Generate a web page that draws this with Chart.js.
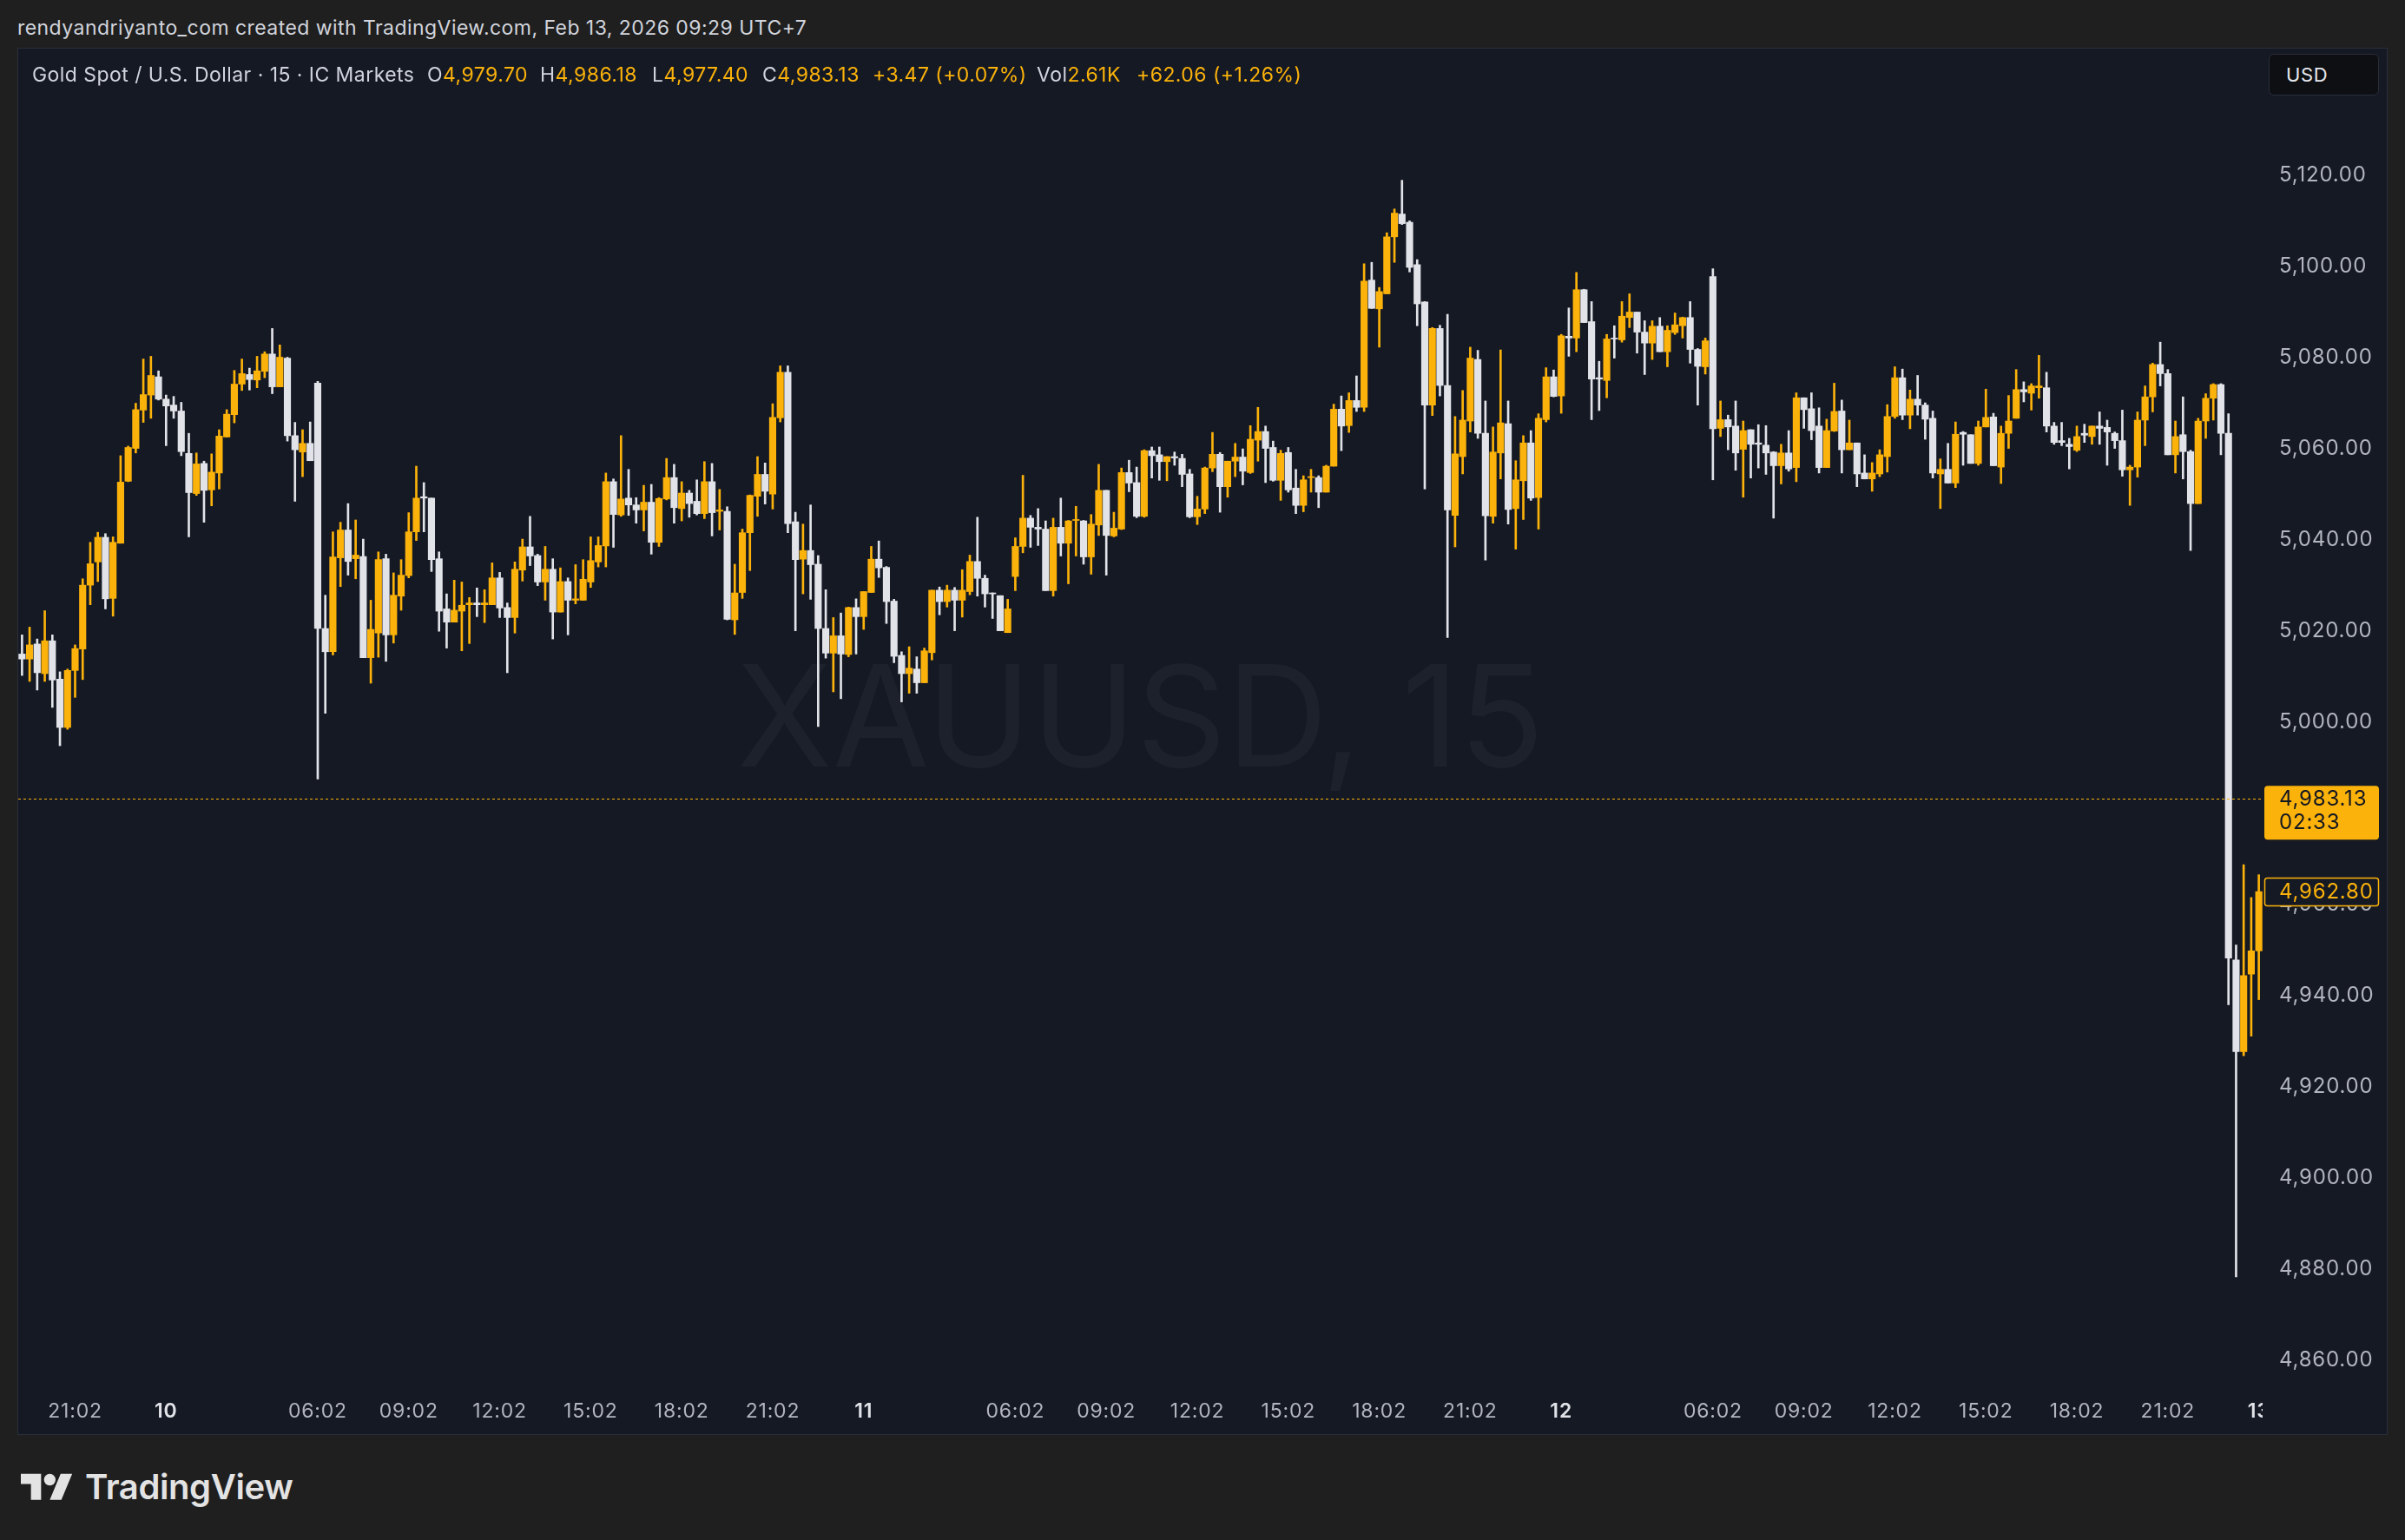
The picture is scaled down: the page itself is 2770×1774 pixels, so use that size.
<!DOCTYPE html>
<html>
<head>
<meta charset="utf-8">
<script src="https://cdn.jsdelivr.net/npm/chart.js@4.4.1/dist/chart.umd.min.js"></script>
<style>
  body { margin: 0; width: 2770px; height: 1774px; background: #1f1f1f; position: relative; overflow: hidden; font-family: Inter, "Noto Sans", sans-serif; }
  #header { position: absolute; left: 20px; top: 19px; font-size: 23px; line-height: 26px; color: #d1d4dc; letter-spacing: 0.45px; white-space: nowrap; }
  #panel { position: absolute; left: 20px; top: 55px; width: 2728px; height: 1596px; border: 1px solid #2a2e39; background: #151924; }
  #chart { position: absolute; left: 21px; top: 56px; }
  .lg { position: absolute; top: 73px; font-size: 23px; line-height: 26px; color: #d1d4dc; white-space: nowrap; letter-spacing: 0.45px; }
  .lg b { font-weight: 400; color: #fbb20a; }
  #usd { position: absolute; left: 2613px; top: 62px; width: 127px; height: 48px; box-sizing: border-box; border: 1px solid #2a2e39; border-radius: 6px; background: #0e0f13; color: #e6e8ee; font-size: 22px; line-height: 46px; padding-left: 19px; letter-spacing: 0.6px; }
  #logo { position: absolute; left: 24px; top: 1691px; display: flex; align-items: flex-start; }
  #logo span { font-size: 40px; font-weight: 600; color: #e3e3e3; letter-spacing: -0.4px; margin-left: 14px; line-height: 40px; margin-top: 2px; }
</style>
</head>
<body>
<div id="header">rendyandriyanto_com created with TradingView.com, Feb 13, 2026 09:29 UTC+7</div>
<div id="panel"></div>
<canvas id="chart" width="2728" height="1596"></canvas>
<div class="lg" style="left:37px">Gold Spot / U.S. Dollar · 15 · IC Markets</div>
<div class="lg" style="left:492px">O<b>4,979.70</b></div>
<div class="lg" style="left:622px">H<b>4,986.18</b></div>
<div class="lg" style="left:751px">L<b>4,977.40</b></div>
<div class="lg" style="left:878px">C<b>4,983.13</b></div>
<div class="lg" style="left:1005px"><b>+3.47 (+0.07%)</b></div>
<div class="lg" style="left:1194px">Vol<b>2.61K</b></div>
<div class="lg" style="left:1309px"><b>+62.06 (+1.26%)</b></div>
<div id="usd">USD</div>
<div id="logo">
  <svg width="60" height="47" viewBox="0 0 36 28"><path fill="#e3e3e3" d="M14 22H7V11H0V4h14v18zM28 22h-8l7.5-18h8L28 22z"/><circle fill="#e3e3e3" cx="20" cy="8" r="4"/></svg>
  <span>TradingView</span>
</div>
<script>
const opens = [
5014.9,5013.8,5017.1,5010.6,5017.8,5009.4,4998.8,5011.3,5016.0,5030.0,5035.1,5040.5,5027.1,5039.2,5052.8,5060.0,5068.4,5071.7,5075.7,5070.8,
5069.5,5068.2,5058.9,5050.1,5056.7,5050.9,5054.6,5062.5,5067.4,5074.1,5076.2,5075.0,5076.9,5080.7,5073.5,5079.8,5062.8,5059.2,5061.1,5074.3,
5020.5,5015.4,5036.0,5042.1,5035.8,5036.3,5014.1,5019.5,5035.8,5019.1,5027.6,5032.1,5041.7,5049.4,5049.1,5035.8,5024.8,5021.9,5024.3,5025.7,
5026.1,5025.7,5025.7,5031.6,5025.1,5022.9,5033.3,5038.4,5036.5,5030.7,5033.5,5024.1,5030.8,5026.7,5026.7,5030.7,5035.1,5038.6,5052.7,5045.4,
5049.1,5047.6,5046.5,5048.2,5039.4,5048.9,5053.6,5046.8,5050.2,5048.4,5045.7,5052.7,5046.2,5046.2,5022.4,5028.4,5041.5,5049.5,5054.3,5050.0,
5066.7,5076.7,5043.9,5035.7,5037.6,5034.6,5020.5,5015.1,5018.9,5014.8,5025.1,5023.1,5028.4,5035.7,5033.9,5026.5,5014.6,5010.6,5011.6,5008.6,
5015.2,5028.9,5026.4,5028.9,5026.7,5028.6,5035.2,5031.5,5028.3,5027.7,5019.6,5031.9,5038.5,5044.7,5042.7,5042.3,5028.8,5042.7,5039.2,5044.2,
5044.1,5036.2,5043.2,5050.8,5040.8,5042.3,5054.7,5052.5,5045.1,5059.5,5058.6,5057.1,5058.2,5057.8,5054.4,5045.0,5046.7,5055.7,5058.7,5051.6,
5057.2,5058.1,5054.7,5061.8,5063.7,5060.2,5053.0,5059.1,5051.3,5047.5,5053.6,5053.6,5050.4,5056.1,5068.6,5065.0,5070.5,5069.0,5096.9,5090.6,
5093.9,5106.4,5111.4,5109.6,5100.3,5092.1,5069.5,5086.3,5073.8,5045.3,5058.2,5066.0,5079.5,5063.3,5045.1,5059.0,5065.4,5046.8,5052.9,5061.2,
5049.2,5066.3,5075.7,5071.5,5084.6,5084.2,5094.8,5087.8,5075.5,5074.9,5084.2,5083.8,5088.7,5089.9,5085.5,5083.1,5086.8,5081.2,5085.4,5086.9,
5088.7,5081.7,5077.9,5097.7,5064.4,5066.3,5064.9,5059.8,5064.1,5061.2,5060.7,5059.2,5056.2,5059.0,5055.8,5071.1,5068.7,5064.9,5055.8,5063.8,
5068.2,5059.7,5061.2,5054.6,5053.3,5054.4,5058.2,5067.0,5075.5,5067.3,5070.8,5069.5,5066.6,5054.4,5055.4,5052.4,5063.5,5063.0,5056.7,5064.7,
5066.9,5055.9,5063.3,5066.6,5072.9,5072.1,5073.3,5073.3,5064.9,5061.7,5060.9,5059.6,5063.3,5062.6,5064.9,5064.6,5063.3,5061.7,5055.3,5055.9,
5066.2,5071.3,5078.4,5076.4,5058.6,5063.0,5059.3,5047.9,5066.0,5071.0,5074.0,5063.3,4947.8,4927.7,4944.7,4949.8
];
const highs = [
5019.1,5020.8,5018.2,5024.4,5019.1,5011.0,5011.6,5016.9,5031.4,5039.4,5041.6,5041.3,5040.6,5058.4,5060.5,5069.9,5079.6,5080.2,5077.0,5071.7,
5071.4,5070.1,5063.3,5059.0,5057.2,5058.8,5064.1,5068.5,5077.1,5079.6,5077.6,5080.2,5081.2,5086.3,5082.7,5080.0,5065.7,5064.1,5065.8,5074.7,
5027.8,5041.7,5043.8,5047.9,5044.3,5040.1,5026.7,5037.3,5036.8,5032.7,5035.6,5045.9,5056.1,5052.5,5049.1,5037.3,5028.1,5031.1,5030.7,5027.3,
5029.4,5029.0,5034.9,5032.8,5026.1,5035.1,5040.1,5045.1,5036.8,5038.5,5035.8,5033.8,5031.6,5034.5,5035.6,5040.6,5040.6,5054.6,5053.3,5062.8,
5055.4,5049.2,5051.9,5052.1,5049.2,5057.8,5056.5,5052.7,5050.8,5053.1,5057.1,5056.7,5051.0,5047.2,5034.6,5042.3,5049.8,5058.2,5056.8,5069.8,
5078.1,5078.1,5046.0,5043.4,5047.6,5036.5,5029.0,5022.9,5023.9,5025.2,5027.0,5028.6,5038.5,5039.7,5034.1,5026.9,5015.4,5016.5,5014.3,5016.2,
5028.9,5029.6,5030.0,5029.5,5033.4,5036.6,5044.9,5032.2,5028.3,5027.7,5026.9,5040.4,5054.1,5045.3,5046.8,5044.1,5044.7,5049.1,5044.2,5047.3,
5044.2,5045.5,5056.5,5050.8,5046.0,5055.7,5057.4,5055.9,5059.7,5060.3,5060.3,5058.2,5059.2,5058.7,5055.4,5049.5,5055.9,5063.5,5059.1,5057.2,
5061.1,5059.9,5065.0,5069.0,5064.9,5061.6,5059.6,5060.2,5055.4,5054.0,5055.4,5054.0,5056.3,5069.7,5071.5,5072.2,5075.9,5100.5,5100.8,5095.3,
5107.3,5112.5,5118.8,5109.9,5101.4,5092.2,5086.5,5087.0,5089.4,5067.0,5072.7,5082.2,5081.5,5070.4,5064.7,5081.6,5070.4,5057.3,5062.8,5063.9,
5067.6,5077.7,5077.2,5085.0,5090.8,5098.6,5094.9,5092.2,5079.1,5085.0,5086.9,5092.2,5093.9,5089.9,5088.0,5088.0,5088.7,5086.9,5089.7,5088.8,
5092.2,5081.9,5084.2,5099.4,5070.4,5067.3,5070.4,5066.0,5064.1,5065.2,5065.0,5059.3,5060.9,5063.9,5072.2,5071.1,5072.2,5068.9,5066.4,5074.3,
5070.6,5066.2,5061.2,5058.6,5056.9,5059.7,5069.6,5077.9,5077.4,5072.8,5076.0,5070.0,5068.2,5057.7,5061.1,5065.8,5063.7,5063.0,5066.0,5073.0,
5067.7,5064.9,5071.6,5077.3,5074.6,5074.2,5080.4,5076.7,5065.7,5065.7,5062.2,5064.9,5065.3,5064.9,5068.0,5066.2,5063.6,5068.4,5056.3,5068.0,
5073.7,5078.7,5083.3,5077.3,5066.0,5071.3,5059.6,5066.6,5072.0,5074.2,5074.2,5067.6,4951.1,4968.7,4961.5,4966.5
];
const lows = [
5010.2,5008.9,5007.0,5008.9,5003.2,4994.8,4998.4,5005.4,5009.3,5025.7,5030.8,5024.8,5023.2,5039.2,5052.7,5059.0,5065.7,5066.6,5070.6,5060.6,
5066.6,5058.4,5040.6,5049.7,5043.8,5047.4,5051.1,5062.5,5065.6,5072.7,5072.8,5073.3,5075.5,5072.0,5073.5,5061.6,5048.4,5053.8,5057.3,4987.5,
5001.9,5014.7,5029.7,5032.2,5031.4,5014.1,5008.5,5014.2,5013.3,5017.3,5024.5,5031.6,5039.8,5041.7,5033.0,5019.9,5016.2,5021.9,5015.6,5017.2,
5023.1,5021.8,5025.7,5022.9,5010.8,5019.5,5030.9,5034.3,5029.9,5026.7,5018.2,5024.1,5019.1,5025.9,5026.7,5029.5,5034.0,5034.0,5038.3,5045.1,
5045.3,5043.6,5041.9,5036.8,5038.5,5048.7,5043.6,5044.1,5044.9,5045.4,5044.6,5040.8,5042.1,5022.4,5019.2,5027.1,5033.2,5045.1,5047.8,5046.7,
5065.8,5041.5,5020.0,5028.1,5026.9,4999.0,5014.0,5006.6,5005.1,5014.3,5014.9,5020.3,5028.4,5031.7,5021.6,5013.0,5004.4,5006.3,5006.3,5008.6,
5013.6,5023.5,5025.2,5020.0,5023.0,5027.9,5027.6,5025.2,5022.7,5020.0,5019.6,5028.8,5037.1,5038.3,5038.7,5028.8,5027.6,5036.4,5030.3,5036.4,
5034.6,5032.4,5040.9,5032.2,5040.6,5042.2,5050.5,5044.8,5044.9,5053.5,5053.0,5052.9,5056.3,5051.6,5044.8,5043.3,5045.7,5054.9,5046.0,5049.3,
5053.8,5052.0,5054.5,5057.2,5052.5,5052.8,5048.6,5050.4,5045.7,5046.1,5050.4,5047.0,5050.4,5056.1,5059.5,5063.5,5068.1,5068.1,5090.7,5082.2,
5093.9,5100.8,5109.1,5098.7,5086.9,5051.1,5067.2,5071.5,5018.5,5038.4,5054.4,5063.6,5062.2,5035.5,5043.6,5053.3,5043.4,5037.9,5044.4,5048.6,
5042.3,5065.8,5071.3,5067.7,5080.2,5081.2,5087.6,5066.3,5068.3,5071.1,5079.8,5083.3,5086.5,5080.9,5076.2,5079.5,5081.2,5077.9,5085.0,5084.2,
5078.7,5069.5,5076.3,5053.1,5062.6,5059.7,5055.2,5049.3,5053.5,5055.7,5054.3,5044.7,5052.2,5055.0,5052.7,5064.4,5061.9,5054.6,5055.8,5063.7,
5054.6,5059.7,5051.6,5053.3,5050.6,5053.8,5054.8,5066.6,5066.3,5064.3,5067.3,5062.0,5053.5,5046.8,5052.4,5051.4,5056.3,5056.7,5056.3,5064.7,
5056.2,5052.3,5060.0,5066.6,5070.2,5068.4,5071.0,5063.6,5060.9,5060.6,5055.5,5059.3,5061.3,5060.9,5060.9,5056.3,5060.0,5053.9,5047.5,5053.7,
5060.6,5068.0,5073.7,5058.6,5054.6,5053.3,5037.6,5047.9,5062.2,5066.2,5058.6,4938.0,4878.3,4926.8,4931.1,4939.1
];
const closes = [
5013.8,5016.9,5010.8,5017.8,5009.2,4998.8,5011.3,5016.1,5030.0,5034.7,5040.5,5027.0,5039.4,5052.6,5060.2,5068.5,5071.8,5076.0,5070.8,5069.3,
5068.2,5059.3,5050.3,5056.6,5050.8,5054.8,5062.7,5067.5,5074.1,5076.4,5075.1,5077.0,5080.7,5073.5,5080.0,5062.8,5059.7,5061.1,5057.3,5020.5,
5015.4,5036.2,5042.1,5035.2,5036.6,5014.1,5020.3,5035.6,5019.1,5027.8,5032.2,5041.7,5049.1,5049.1,5035.6,5024.3,5021.9,5024.5,5025.6,5026.1,
5025.7,5026.1,5031.6,5025.0,5022.9,5033.5,5038.4,5036.4,5030.7,5033.5,5024.1,5030.8,5026.7,5027.0,5031.3,5035.4,5038.7,5052.7,5045.5,5048.9,
5047.6,5046.5,5048.2,5039.4,5049.0,5053.6,5047.0,5050.2,5047.9,5045.7,5052.7,5045.9,5046.5,5022.5,5028.3,5041.5,5049.7,5054.3,5050.6,5066.8,
5076.7,5043.5,5035.6,5037.6,5034.5,5020.5,5015.1,5018.9,5014.9,5025.1,5023.1,5028.6,5035.7,5033.8,5026.4,5014.4,5010.6,5011.8,5008.6,5015.6,
5028.9,5026.4,5028.9,5026.7,5028.9,5035.2,5031.5,5028.1,5028.1,5020.0,5024.8,5038.5,5044.7,5042.7,5042.3,5028.8,5042.7,5039.2,5044.1,5044.4,
5036.2,5043.4,5050.8,5040.9,5042.5,5054.7,5052.4,5045.1,5059.5,5058.4,5057.1,5058.2,5057.9,5054.3,5045.0,5046.7,5055.7,5058.7,5051.6,5057.2,
5058.1,5055.0,5062.0,5063.7,5060.0,5053.0,5058.9,5050.9,5047.5,5053.1,5053.8,5050.4,5056.1,5068.6,5064.9,5070.5,5069.0,5096.7,5090.7,5094.4,
5106.4,5111.6,5109.3,5099.7,5091.7,5069.5,5086.3,5073.8,5046.5,5058.8,5066.2,5079.8,5063.3,5045.2,5059.2,5065.6,5046.6,5053.1,5061.2,5049.1,
5066.6,5075.7,5071.4,5084.7,5084.2,5094.8,5087.6,5075.2,5075.2,5084.0,5084.0,5089.0,5089.9,5085.5,5083.1,5086.8,5081.2,5085.9,5087.1,5088.7,
5081.7,5078.0,5083.6,5064.3,5066.3,5064.7,5059.0,5063.9,5060.9,5060.9,5059.0,5056.2,5059.0,5055.5,5071.1,5068.5,5063.9,5055.8,5063.9,5068.1,
5059.7,5061.2,5054.4,5053.3,5054.6,5058.6,5067.0,5075.5,5067.3,5070.8,5069.5,5066.4,5054.6,5055.4,5052.4,5063.1,5063.1,5056.7,5064.7,5066.8,
5056.2,5063.3,5066.0,5072.9,5072.4,5073.7,5073.7,5064.9,5061.3,5061.3,5060.4,5062.6,5062.9,5064.9,5064.4,5063.6,5061.7,5055.3,5055.9,5066.2,
5071.3,5078.4,5076.4,5058.6,5062.6,5059.3,5047.9,5066.0,5071.0,5074.0,5063.3,4948.2,4927.7,4944.4,4949.8,4962.8
];

// graduations
const yTicks = [4860, 4880, 4900, 4920, 4940, 4960, 4980, 5000, 5020, 5040, 5060, 5080, 5100, 5120];
const xTickAt = ['9 21:00', '10 00:00', '10 06:00', '10 09:00', '10 12:00', '10 15:00', '10 18:00', '10 21:00',
  '11 00:00', '11 06:00', '11 09:00', '11 12:00', '11 15:00', '11 18:00', '11 21:00',
  '12 00:00', '12 06:00', '12 09:00', '12 12:00', '12 15:00', '12 18:00', '12 21:00', '13 00:00'];
const xTickText = ['21:02', '10', '06:02', '09:02', '12:02', '15:02', '18:02', '21:02',
  '11', '06:02', '09:02', '12:02', '15:02', '18:02', '21:02',
  '12', '06:02', '09:02', '12:02', '15:02', '18:02', '21:02', '13'];

const lastPrice = 4983.13;
const countdown = '02:33';
const yMin = 4854.48, yMax = 5147.68;

const UP = '#fbb20a';
const DOWN = '#e1e3e8';
const BG = '#151924';
const FONT = 'Inter, "Noto Sans", sans-serif';

// horodatage des bougies (pause 05:00-06:00)
const times = [];
let t = Date.UTC(2026, 1, 9, 19, 15);
while (times.length < closes.length) {
  const d = new Date(t);
  const hh = d.getUTCHours();
  if (hh !== 5) {
    times.push(d.getUTCDate() + ' ' + String(hh).padStart(2, '0') + ':' + String(d.getUTCMinutes()).padStart(2, '0'));
  }
  t += 15 * 60000;
}

const colors = closes.map((c, i) => c >= opens[i] ? UP : DOWN);
const bodies = closes.map((c, i) => [opens[i], c]);
const wicks = closes.map((c, i) => [lows[i], highs[i]]);

function tickText(i) {
  const k = xTickAt.indexOf(times[i]);
  return k < 0 ? '' : xTickText[k];
}

const fmt = v => v.toLocaleString('en-US', { minimumFractionDigits: 2, maximumFractionDigits: 2 });

// filigrane, ligne de prix, étiquettes de l'échelle
const decor = {
  id: 'decor',
  beforeDraw(chart) {
    chart.ctx.letterSpacing = '0.8px';
  },
  beforeDatasetsDraw(chart) {
    const { ctx, chartArea: a } = chart;
    ctx.save();
    ctx.letterSpacing = '0px';
    ctx.font = '400 162px ' + FONT;
    ctx.fillStyle = '#1d212c';
    ctx.textAlign = 'center';
    ctx.textBaseline = 'middle';
    ctx.fillText('XAUUSD, 15', (a.left + a.right) / 2, (a.top + a.bottom) / 2 + 8);
    ctx.restore();
  },
  afterDatasetsDraw(chart) {
    const { ctx, chartArea: a, scales: { y } } = chart;
    const py = Math.round(y.getPixelForValue(lastPrice)) + 0.5;
    ctx.save();
    ctx.strokeStyle = UP;
    ctx.lineWidth = 1;
    ctx.setLineDash([3, 3]);
    ctx.beginPath();
    ctx.moveTo(a.left, py);
    ctx.lineTo(a.right, py);
    ctx.stroke();
    // la zone de l'échelle coupe ce qui dépasse (le "13")
    ctx.fillStyle = BG;
    ctx.fillRect(a.right, 0, chart.width - a.right, chart.height);
    ctx.restore();
  },
  afterDraw(chart) {
    const { ctx, chartArea: a, scales: { y } } = chart;
    const x0 = a.right + 2, w = 132, tx = a.right + 19;
    ctx.save();
    ctx.font = '400 24px ' + FONT;
    ctx.textBaseline = 'middle';
    ctx.textAlign = 'left';
    // étiquette du dernier prix
    const py = y.getPixelForValue(lastPrice);
    ctx.fillStyle = UP;
    ctx.beginPath();
    ctx.roundRect(x0, py - 15, w, 62, 4);
    ctx.fill();
    ctx.fillStyle = '#131722';
    ctx.fillText(fmt(lastPrice), tx, py + 1);
    ctx.fillText(countdown, tx, py + 28);
    // étiquette de la dernière bougie visible
    const last = closes[closes.length - 1];
    const pm = y.getPixelForValue(last);
    ctx.beginPath();
    ctx.roundRect(x0 + 0.5, pm - 15.5, w - 1, 32, 3);
    ctx.fillStyle = BG;
    ctx.fill();
    ctx.strokeStyle = UP;
    ctx.lineWidth = 1.5;
    ctx.stroke();
    ctx.fillStyle = UP;
    ctx.fillText(fmt(last), tx, pm + 1);
    ctx.restore();
  }
};

new Chart(document.getElementById('chart'), {
  type: 'bar',
  data: {
    labels: times,
    datasets: [
      { data: bodies, backgroundColor: colors, barThickness: 7.5, minBarLength: 1, grouped: false, borderWidth: 0 },
      { data: wicks, backgroundColor: colors, barThickness: 2, grouped: false, borderWidth: 0 }
    ]
  },
  options: {
    responsive: false,
    animation: false,
    events: [],
    layout: { padding: 0 },
    plugins: { legend: { display: false }, tooltip: { enabled: false } },
    scales: {
      x: {
        type: 'category',
        offset: true,
        grid: { display: false, drawTicks: false },
        border: { display: false },
        ticks: {
          autoSkip: false,
          maxRotation: 0,
          padding: 16,
          callback: (v, i) => tickText(i),
          font: c => ({ family: FONT, size: 23, weight: tickText(c.index).length <= 2 ? '600' : '400' }),
          color: c => tickText(c.index).length <= 2 ? '#e1e3e8' : '#b2b5be'
        },
        afterFit: s => { s.height = 56; s.paddingLeft = 0; s.paddingRight = 0; }
      },
      y: {
        position: 'right',
        min: yMin,
        max: yMax,
        grid: { display: false, drawTicks: false },
        border: { display: false },
        afterBuildTicks: s => { s.ticks = yTicks.map(v => ({ value: v })); },
        ticks: {
          z: 1,
          padding: 19,
          color: '#b2b5be',
          font: { family: FONT, size: 24 },
          callback: v => fmt(v)
        },
        afterFit: s => { s.width = 143; s.paddingTop = 0; s.paddingBottom = 0; }
      }
    }
  },
  plugins: [decor]
});
</script>
</body>
</html>
